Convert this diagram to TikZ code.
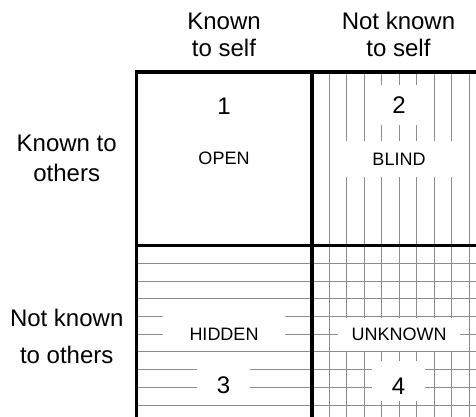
\documentclass[tikz,border=0pt]{standalone}
\usepackage{fontspec}
\setmainfont{Liberation Sans}
\usepackage{tikz}

\begin{document}
\begin{tikzpicture}[
    x=0.5pt, y=-0.5pt,
    cabecalho/.style={align=center, inner sep=0pt, font=\fontsize{12}{13.35}\selectfont},
    lateral/.style={align=center, inner sep=0pt, font=\fontsize{12}{15}\selectfont},
    numero/.style={anchor=base, fill=white, inner sep=0pt, font=\fontsize{12}{14}\selectfont},
    campo/.style={anchor=base, fill=white, inner sep=0pt, font=\fontsize{9}{11}\selectfont},
    grade/.style={draw=black!45, line width=0.5pt},
    borda/.style={draw=black, line width=1.75pt}
]
    \useasboundingbox (0,0) rectangle (476,417);
    \clip (0,0) rectangle (476,417);

    % raster
    \foreach \k in {1,...,9} {
        \draw[grade] (311.8+17.5*\k,72) -- (311.8+17.5*\k,430);
        \draw[grade] (136.5,245.7+17.7*\k) -- (490,245.7+17.7*\k);
    }

    % quadrantes
    \draw[borda] (136.5,72) rectangle (490,430);
    \draw[borda] (311.8,72) -- (311.8,430);
    \draw[borda] (136.5,245.7) -- (490,245.7);

    \node[cabecalho] (selfknown) at (224,34.75) {Known\\to self};
    \node[cabecalho] (selfnot) at (398.5,34.75) {Not known\\to self};
    \node[lateral] (othersknown) at (66.7,158.1) {Known to\\others};
    \node[lateral, font=\fontsize{12}{18.3}\selectfont] (othersnot) at (66.7,336.4) {Not known\\to others};

    \node[numero, minimum width=28pt, text height=14pt, text depth=6pt] (num1) at (224,114) {1};
    \node[campo, minimum width=61pt, text height=12pt, text depth=6pt] (open) at (224,164.3) {OPEN};
    \node[numero, minimum width=29pt, text height=14.15pt, text depth=5.85pt] (num2) at (399,113.3) {2};
    \node[campo, minimum width=61pt, text height=12pt, text depth=6pt] (blind) at (399,165) {BLIND};
    \node[campo, minimum width=61pt, text height=17pt, text depth=3.5pt] (hidden) at (224,340) {HIDDEN};
    \node[numero, minimum width=26.5pt, text height=16.65pt, text depth=3.35pt] (num3) at (223.5,393.3) {3};
    \node[campo, minimum width=61pt, text height=11.35pt, text depth=5.15pt] (unknown) at (399,340.7) {UNKNOWN};
    \node[numero, minimum width=26.5pt, text height=16.5pt, text depth=3.5pt] (num4) at (398.5,394) {4};
\end{tikzpicture}
\end{document}
